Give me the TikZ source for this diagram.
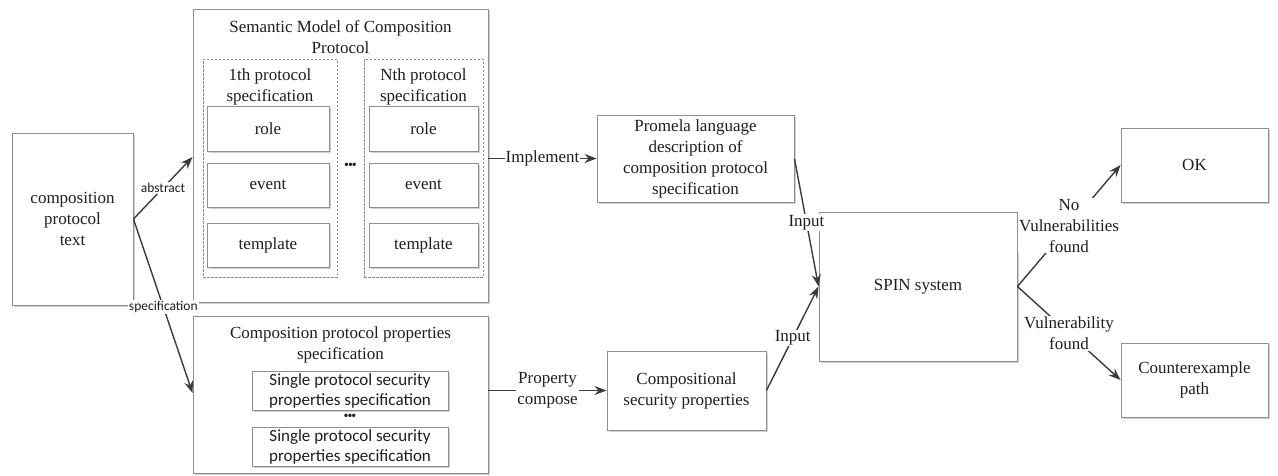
\documentclass[tikz,border=0pt]{standalone}
\usepackage{fontspec}
\setmainfont{Liberation Serif}
\newfontfamily\serifface{Liberation Serif}
\newfontfamily\lblfont{Carlito}
\usetikzlibrary{arrows.meta,shadows}
\definecolor{edge}{HTML}{8E8E8E}
\definecolor{ink}{HTML}{1E1E1E}
\definecolor{wire}{HTML}{3C3C3C}
\tikzset{
  txt/.style={font=\serifface\fontsize{17}{21}\selectfont, text=ink, align=center},
  sanstxt/.style={font=\lblfont\fontsize{17}{20}\selectfont, text=ink, align=center},
  box/.style={draw=edge, line width=0.9pt, fill=white, inner sep=0pt, txt,
    drop shadow={shadow xshift=2pt, shadow yshift=-2pt, fill=black!18, opacity=1}},
  dbox/.style={draw=edge, dashed, dash pattern=on 2.5pt off 1.5pt, line width=0.7pt, inner sep=0pt},
  wirearrow/.style={draw=wire, line width=1.4pt, -{Stealth[length=12pt,width=9pt]}},
  lbl/.style={fill=white, inner sep=1pt, txt},
  slbl/.style={fill=white, inner sep=1pt, font=\lblfont\fontsize{13.5}{15}\selectfont, text=ink},
  dots/.style={font=\serifface\fontsize{14}{14}\selectfont, text=ink, inner sep=0pt}
}
\begin{document}
\begin{tikzpicture}[x=1pt, y=-1pt]
\useasboundingbox (0,0) rectangle (1278,475);

% source text
\node[box, minimum width=121pt, minimum height=172pt] (comp) at (72.5,219)
  {composition\\protocol\\text};

% semantic model container
\node[box, minimum width=295pt, minimum height=293pt] (sem) at (340.5,155.5) {};
\node[txt] (semtitle) at (340.5,37.5) {Semantic Model of Composition\\Protocol};
\node[dbox, minimum width=134pt, minimum height=218pt] (spec1) at (270,168) {};
\node[dbox, minimum width=119pt, minimum height=218pt] (specN) at (423.5,168) {};
\node[txt] (spec1t) at (270,87) {1th protocol\\specification};
\node[txt] (specNt) at (423.5,87) {Nth protocol\\specification};
\node[box, minimum width=122pt, minimum height=45pt] (role1) at (268,128.5) {role};
\node[box, minimum width=122pt, minimum height=44pt] (event1) at (268,185) {event};
\node[box, minimum width=122pt, minimum height=44pt] (tmpl1) at (268,245) {template};
\node[box, minimum width=109pt, minimum height=45pt] (roleN) at (423.5,128.5) {role};
\node[box, minimum width=109pt, minimum height=44pt] (eventN) at (423.5,185) {event};
\node[box, minimum width=109pt, minimum height=44pt] (tmplN) at (423.5,245) {template};
\node[dots] (semdots) at (350.5,166) {\textbullet\kern-1pt\textbullet\kern-1pt\textbullet};

% properties container
\node[box, minimum width=295pt, minimum height=157pt] (props) at (340.5,394.5) {};
\node[txt] (propstitle) at (340.5,345) {Composition protocol properties\\specification};
\node[box, sanstxt, minimum width=196pt, minimum height=39pt] (single1) at (350,390.5)
  {Single protocol security\\properties specification};
\node[dots] (propdots) at (350,417.5) {\textbullet\kern-1pt\textbullet\kern-1pt\textbullet};
\node[box, sanstxt, minimum width=196pt, minimum height=39pt] (single2) at (350,446.5)
  {Single protocol security\\properties specification};

% middle column
\node[box, minimum width=197pt, minimum height=87pt] (promela) at (695.5,158.5)
  {Promela language\\description of\\composition protocol\\specification};
\node[box, minimum width=159pt, minimum height=79pt] (compsec) at (686.5,390.5)
  {Compositional\\security properties};

% model checker and results
\node[box, minimum width=198pt, minimum height=149pt] (spin) at (918,286.5) {SPIN system};
\node[box, minimum width=147pt, minimum height=74pt] (ok) at (1194.5,165) {OK};
\node[box, minimum width=147pt, minimum height=74pt] (cex) at (1194.5,380) {Counterexample\\path};

% connectors
\draw[wirearrow] (comp.east) -- node[slbl, pos=0.5] {abstract} (sem.west |- 0,157);
\draw[wirearrow] (comp.east) -- node[slbl, pos=0.506] {specification} (props.west |- 0,393);
\draw[wirearrow] (sem.east |- promela.west) -- node[lbl] {Implement} (promela.west);
\draw[wirearrow] (props.east |- compsec.west) -- node[lbl] {Property\\compose} (compsec.west);
\draw[wirearrow] (promela.east) -- node[lbl, pos=0.5] {Input} (spin.west);
\draw[wirearrow] (compsec.east) -- node[lbl, pos=0.505] {Input} (spin.west);
\draw[wirearrow] (spin.east) -- node[lbl, pos=0.5] {No\\Vulnerabilities\\found} (ok.west);
\draw[wirearrow] (spin.east) -- node[lbl, pos=0.5] {Vulnerability\\found} (cex.west);
\end{tikzpicture}
\end{document}
